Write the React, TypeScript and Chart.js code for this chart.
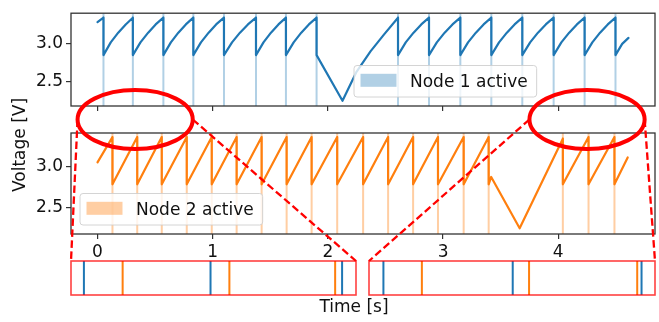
import React, { useEffect, useRef } from 'react';
import { Chart, registerables } from 'chart.js';

Chart.register(...registerables);

// ---------- data ----------
const xRange = [-0.23, 4.84];
const yRange = [2.17, 3.41];
const xTicks = [0, 1, 2, 3, 4];
const yTicks = [2.5, 3.0];

const seriesLabels = ['Node 1 active', 'Node 2 active'];
const xLabel = 'Time [s]';
const yLabel = 'Voltage [V]';

const node1Times = [
  0.000, 0.052,
  0.052, 0.115, 0.180, 0.245, 0.307,
  0.307, 0.373, 0.440, 0.505, 0.572,
  0.572, 0.637, 0.702, 0.767, 0.832,
  0.832, 0.898, 0.965, 1.030, 1.098,
  1.098, 1.168, 1.237, 1.306, 1.376,
  1.376, 1.441, 1.506, 1.571, 1.636,
  1.636, 1.703, 1.769, 1.835, 1.902,
  1.902, 2.127, 2.250, 2.370, 2.490, 2.609,
  2.609, 2.676, 2.744, 2.811, 2.878,
  2.878, 2.946, 3.014, 3.082, 3.150,
  3.150, 3.217, 3.285, 3.352, 3.419,
  3.419, 3.486, 3.554, 3.621, 3.688,
  3.688, 3.756, 3.824, 3.892, 3.960,
  3.960, 4.027, 4.095, 4.162, 4.229,
  4.229, 4.296, 4.363, 4.430, 4.497,
  4.497, 4.555, 4.610,
];
const node1Volts = [
  3.29, 3.35,
  2.85, 3.02, 3.15, 3.26, 3.35,
  2.85, 3.02, 3.15, 3.26, 3.35,
  2.85, 3.02, 3.15, 3.26, 3.35,
  2.85, 3.02, 3.15, 3.26, 3.35,
  2.85, 3.02, 3.15, 3.26, 3.35,
  2.85, 3.02, 3.15, 3.26, 3.35,
  2.85, 3.02, 3.15, 3.26, 3.35,
  2.85, 2.24, 2.63, 2.90, 3.13, 3.35,
  2.85, 3.02, 3.15, 3.26, 3.35,
  2.85, 3.02, 3.15, 3.26, 3.35,
  2.85, 3.02, 3.15, 3.26, 3.35,
  2.85, 3.02, 3.15, 3.26, 3.35,
  2.85, 3.02, 3.15, 3.26, 3.35,
  2.85, 3.02, 3.15, 3.26, 3.35,
  2.85, 3.02, 3.15, 3.26, 3.35,
  2.85, 3.00, 3.08,
];
const node1Events = [
  0.052, 0.307, 0.572, 0.832, 1.098, 1.376, 1.636, 1.902,
  2.609, 2.878, 3.150, 3.419, 3.688, 3.960, 4.229, 4.497,
];

const node2Times = [
  0.000,
  0.130, 0.130, 0.345, 0.345, 0.558, 0.558, 0.775, 0.775,
  0.992, 0.992, 1.208, 1.208, 1.425, 1.425, 1.642, 1.642,
  1.859, 1.859, 2.081, 2.081, 2.306, 2.306, 2.523, 2.523,
  2.740, 2.740, 2.956, 2.956, 3.179, 3.179, 3.396, 3.396,
  3.418, 3.665,
  4.040, 4.040, 4.263, 4.263, 4.488, 4.488,
  4.603,
];
const node2Volts = [
  3.05,
  3.36, 2.78, 3.36, 2.78, 3.36, 2.78, 3.36, 2.78,
  3.36, 2.78, 3.36, 2.78, 3.36, 2.78, 3.36, 2.78,
  3.36, 2.78, 3.36, 2.78, 3.36, 2.78, 3.36, 2.78,
  3.36, 2.78, 3.36, 2.78, 3.36, 2.78, 3.36, 2.78,
  2.87, 2.24,
  3.34, 2.78, 3.36, 2.78, 3.36, 2.78,
  3.11,
];
const node2Events = [
  0.130, 0.345, 0.558, 0.775, 0.992, 1.208, 1.425, 1.642, 1.859,
  2.081, 2.306, 2.523, 2.740, 2.956, 3.179, 3.396,
  4.040, 4.263, 4.488,
];

const insetRanges = [
  [0.026, 0.600],
  [3.930, 4.525],
];
const ellipseCenters = [0.327, 4.25];
const ellipseHalfSpan = 0.5;

// ---------- styles ----------
const FONT = "'DejaVu Sans', sans-serif";
const BLUE = '#1f77b4';
const ORANGE = '#ff7f0e';
const BLUE_SPAN = 'rgba(31,119,180,0.35)';
const ORANGE_SPAN = 'rgba(255,127,14,0.38)';
const W = 659;
const H = 322;

Chart.defaults.font.family = FONT;
Chart.defaults.font.size = 17;
Chart.defaults.color = '#111';

const framePlugin = (color: string, width: number) => ({
  id: 'frame',
  afterDraw(chart: any) {
    const { ctx, chartArea: ca } = chart;
    ctx.save();
    ctx.strokeStyle = color;
    ctx.lineWidth = width;
    ctx.strokeRect(ca.left, ca.top, ca.right - ca.left, ca.bottom - ca.top);
    ctx.restore();
  },
});

const legendPlugin = (label: string, color: string, offsetLeft: number) => ({
  id: 'customLegend',
  afterDatasetsDraw(chart: any) {
    const { ctx, chartArea: ca } = chart;
    ctx.save();
    ctx.font = `17px ${FONT}`;
    const tw = ctx.measureText(label).width;
    const w = tw + 65;
    const h = 31.5;
    const x = ca.left + offsetLeft;
    const y = ca.bottom - 9 - h;
    ctx.beginPath();
    ctx.roundRect(x, y, w, h, 3);
    ctx.fillStyle = 'rgba(255,255,255,0.8)';
    ctx.fill();
    ctx.strokeStyle = 'rgba(204,204,204,0.85)';
    ctx.lineWidth = 1;
    ctx.stroke();
    ctx.fillStyle = color;
    ctx.fillRect(x + 6.5, y + 8.3, 36, 13);
    ctx.fillStyle = '#111';
    ctx.textBaseline = 'middle';
    ctx.textAlign = 'left';
    ctx.fillText(label, x + 56, y + h / 2 + 1);
    ctx.restore();
  },
});

const eventSegments = (ev: number[], lo: number, hi: number) =>
  ev.flatMap((t) => [
    { x: t, y: lo },
    { x: t, y: hi },
    { x: t, y: null },
  ]);

function panelConfig(p: {
  times: number[];
  volts: number[];
  events: number[];
  color: string;
  spanColor: string;
  label: string;
  top: number;
  bottom: number;
  xHeight: number;
  showXLabels: boolean;
  legendLeft: number;
}) {
  return {
    type: 'line',
    data: {
      datasets: [
        {
          label: p.label,
          data: eventSegments(p.events, yRange[0], yRange[1]),
          borderColor: p.spanColor,
          borderWidth: 2,
          pointRadius: 0,
          spanGaps: false,
          order: 2,
        },
        {
          label: 'voltage',
          data: p.times.map((t, i) => ({ x: t, y: p.volts[i] })),
          borderColor: p.color,
          borderWidth: 2.2,
          borderJoinStyle: 'round',
          borderCapStyle: 'round',
          pointRadius: 0,
          tension: 0,
          order: 1,
        },
      ],
    },
    options: {
      responsive: false,
      animation: false,
      events: [],
      layout: { padding: { left: 0, right: W - 655, top: p.top, bottom: H - p.bottom - p.xHeight } },
      plugins: { legend: { display: false }, tooltip: { enabled: false } },
      scales: {
        x: {
          type: 'linear',
          min: xRange[0],
          max: xRange[1],
          afterBuildTicks: (s: any) => {
            s.ticks = xTicks.map((v) => ({ value: v }));
          },
          afterFit: (s: any) => {
            s.height = p.xHeight;
          },
          grid: { drawOnChartArea: false, drawTicks: true, tickLength: 5, color: '#333', lineWidth: 1.2 },
          border: { display: false },
          ticks: {
            display: p.showXLabels,
            padding: 3,
            color: '#111',
            maxRotation: 0,
            font: { size: 17, family: FONT },
            callback: (v: any) => String(v),
          },
        },
        y: {
          type: 'linear',
          min: yRange[0],
          max: yRange[1],
          afterBuildTicks: (s: any) => {
            s.ticks = yTicks.map((v) => ({ value: v }));
          },
          afterFit: (s: any) => {
            s.width = 71;
          },
          grid: { drawOnChartArea: false, drawTicks: true, tickLength: 5, color: '#333', lineWidth: 1.2 },
          border: { display: false },
          ticks: {
            padding: 3,
            color: '#111',
            font: { size: 17, family: FONT },
            callback: (v: any) => Number(v).toFixed(1),
          },
        },
      },
    },
    plugins: [framePlugin('#333', 1.3), legendPlugin(p.label, p.spanColor, p.legendLeft)],
  };
}

function insetConfig(range: number[], left: number, right: number, extra: any[]) {
  return {
    type: 'line',
    data: {
      datasets: [
        {
          label: seriesLabels[0],
          data: eventSegments(node1Events, 0, 1),
          borderColor: BLUE,
          borderWidth: 2,
          pointRadius: 0,
          spanGaps: false,
        },
        {
          label: seriesLabels[1],
          data: eventSegments(node2Events, 0, 1),
          borderColor: ORANGE,
          borderWidth: 2,
          pointRadius: 0,
          spanGaps: false,
        },
      ],
    },
    options: {
      responsive: false,
      animation: false,
      events: [],
      layout: { padding: { left, right: W - right, top: 261, bottom: H - 295 } },
      plugins: { legend: { display: false }, tooltip: { enabled: false } },
      scales: {
        x: { type: 'linear', min: range[0], max: range[1], display: false },
        y: { type: 'linear', min: 0, max: 1, display: false },
      },
    },
    plugins: [framePlugin('rgba(255,0,0,0.75)', 1.6), ...extra],
  };
}

export default function App() {
  const r0 = useRef<HTMLCanvasElement>(null);
  const r1 = useRef<HTMLCanvasElement>(null);
  const r2 = useRef<HTMLCanvasElement>(null);
  const r3 = useRef<HTMLCanvasElement>(null);

  useEffect(() => {
    const charts: Chart[] = [];
    const topChart = new Chart(
      r0.current as HTMLCanvasElement,
      panelConfig({
        times: node1Times,
        volts: node1Volts,
        events: node1Events,
        color: BLUE,
        spanColor: BLUE_SPAN,
        label: seriesLabels[0],
        top: 5,
        bottom: 106,
        xHeight: 10,
        showXLabels: false,
        legendLeft: 283,
      }) as any
    );
    charts.push(topChart);
    const bottomChart = new Chart(
      r1.current as HTMLCanvasElement,
      panelConfig({
        times: node2Times,
        volts: node2Volts,
        events: node2Events,
        color: ORANGE,
        spanColor: ORANGE_SPAN,
        label: seriesLabels[1],
        top: 133,
        bottom: 234,
        xHeight: 30,
        showXLabels: true,
        legendLeft: 9,
      }) as any
    );
    charts.push(bottomChart);
    const insetL = new Chart(r2.current as HTMLCanvasElement, insetConfig(insetRanges[0], 71, 356, []) as any);
    charts.push(insetL);

    const overlay = {
      id: 'overlay',
      afterDraw(chart: any) {
        const ctx = chart.ctx;
        const xs: any = bottomChart.scales.x;
        const cy = (topChart.chartArea.bottom + bottomChart.chartArea.top) / 2;
        const insetAreas = [insetL.chartArea, chart.chartArea];
        ellipseCenters.forEach((tc, i) => {
          const cx = xs.getPixelForValue(tc);
          const rx = xs.getPixelForValue(tc + ellipseHalfSpan) - cx;
          const ry = 29.5;
          const ia = insetAreas[i];
          ctx.save();
          ctx.strokeStyle = '#ff0000';
          ctx.lineWidth = 2.3;
          ctx.setLineDash([7.5, 3.5]);
          ctx.beginPath();
          ctx.moveTo(cx - rx, cy);
          ctx.lineTo(ia.left, ia.top);
          ctx.stroke();
          ctx.beginPath();
          ctx.moveTo(cx + rx, cy);
          ctx.lineTo(ia.right, ia.top);
          ctx.stroke();
          ctx.setLineDash([]);
          ctx.lineWidth = 4;
          ctx.beginPath();
          ctx.ellipse(cx, cy, rx, ry, 0, 0, Math.PI * 2);
          ctx.stroke();
          ctx.restore();
        });
        // axis labels
        ctx.save();
        ctx.fillStyle = '#111';
        ctx.font = `17px ${FONT}`;
        ctx.textAlign = 'center';
        ctx.textBaseline = 'middle';
        ctx.fillText(xLabel, 354, 308);
        ctx.translate(21, 145);
        ctx.rotate(-Math.PI / 2);
        ctx.fillText(yLabel, 0, 0);
        ctx.restore();
      },
    };
    const insetR = new Chart(r3.current as HTMLCanvasElement, insetConfig(insetRanges[1], 369, 655, [overlay]) as any);
    charts.push(insetR);

    return () => charts.forEach((c) => c.destroy());
  }, []);

  const style: React.CSSProperties = { position: 'absolute', left: 0, top: 0, width: W, height: H };
  return (
    <div style={{ position: 'fixed', left: 0, top: 0, width: W, height: H, background: '#fff' }}>
      <canvas ref={r0} width={W} height={H} style={style} />
      <canvas ref={r1} width={W} height={H} style={style} />
      <canvas ref={r2} width={W} height={H} style={style} />
      <canvas ref={r3} width={W} height={H} style={style} />
    </div>
  );
}
